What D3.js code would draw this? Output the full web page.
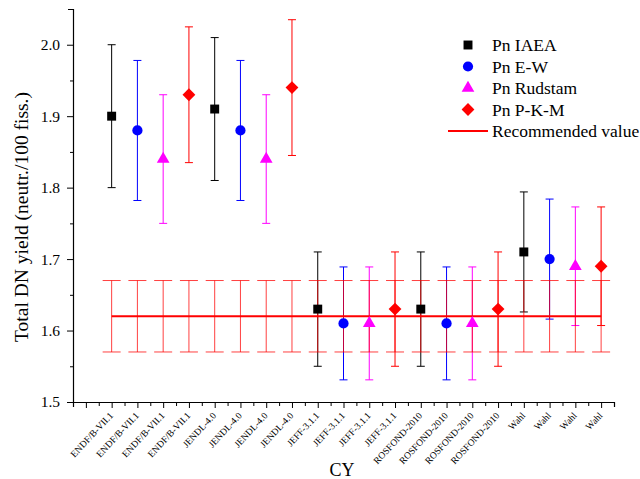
<!DOCTYPE html>
<html>
<head>
<meta charset="utf-8">
<script src="https://d3js.org/d3.v7.min.js"></script>
<style>
  body { margin: 0; background: #fff; }
</style>
</head>
<body>
<svg id="chart" width="640" height="479" font-family="'Liberation Serif', 'Times New Roman', Times, serif"></svg>
<script>
// CY libraries, each evaluated with four Pn data sets
var libraries = ['ENDF/B-VII.1', 'JENDL-4.0', 'JEFF-3.1.1', 'ROSFOND-2010', 'Wahl'];
var series = ['Pn IAEA', 'Pn E-W', 'Pn Rudstam', 'Pn P-K-M'];

// values per series, one per library
var iaeaVals = [1.90, 1.91, 1.63, 1.63, 1.71];
var iaeaErr  = [0.10, 0.10, 0.08, 0.08, 0.084];
var ewVals   = [1.88, 1.88, 1.61, 1.61, 1.70];
var ewErr    = [0.098, 0.098, 0.079, 0.079, 0.084];
var rudVals  = [1.84, 1.84, 1.61, 1.61, 1.69];
var rudErr   = [0.09, 0.09, 0.079, 0.079, 0.083];
var pkmVals  = [1.93, 1.94, 1.63, 1.63, 1.69];
var pkmErr   = [0.095, 0.095, 0.08, 0.08, 0.083];

var recValue = 1.62;
var recErr = 0.05;

var yTicks = [1.5, 1.6, 1.7, 1.8, 1.9, 2.0];

var FONT = "'Liberation Serif', 'Times New Roman', Times, serif";
var colors = ['#000000', '#0000ff', '#ff00ff', '#ff0000'];
// diamond = square turned 45 degrees
var shapes = [d3.symbolSquare, d3.symbolCircle, d3.symbolTriangle, d3.symbolSquare];
var turns = [0, 0, 0, 45];
var sizes = [80, 82, 70, 82];

var allVals = [iaeaVals, ewVals, rudVals, pkmVals];
var allErr = [iaeaErr, ewErr, rudErr, pkmErr];

// flatten into 20 category points: library-major, series-minor
var points = [];
libraries.forEach(function(lib, li) {
  series.forEach(function(s, si) {
    points.push({ idx: li * 4 + si + 1, label: lib, s: si, v: allVals[si][li], e: allErr[si][li] });
  });
});

var svg = d3.select('#chart');
var x = d3.scaleLinear().domain([-0.5, 20.5]).range([73, 614]);
var y = d3.scaleLinear().domain([1.5, 2.05]).range([402, 9]);

// axes
var xAxis = d3.axisBottom(x)
  .tickValues(d3.range(0, 20.5, 0.5))
  .tickSize(5)
  .tickFormat('');
var gx = svg.append('g').attr('transform', 'translate(0,402)').call(xAxis);
gx.attr('font-family', FONT);
gx.select('.domain').attr('stroke', '#000').attr('stroke-width', 1.2);
gx.selectAll('.tick line').attr('stroke', '#000')
  .attr('y2', function(d) { return d % 1 === 0 ? 6 : 4; });

gx.selectAll('.lbl')
  .data(points)
  .join('text')
  .attr('class', 'lbl')
  .attr('transform', function(d) { return 'translate(' + (x(d.idx) + 2) + ',14) rotate(-47)'; })
  .attr('text-anchor', 'end')
  .attr('font-size', 9.5)
  .attr('fill', '#000')
  .text(function(d) { return d.label; });

var yAxis = d3.axisLeft(y)
  .tickValues(d3.range(1.5, 2.051, 0.05))
  .tickSize(5)
  .tickPadding(4)
  .tickFormat(function(d) {
    var r = Math.round(d * 100) / 100;
    return yTicks.some(function(t) { return Math.abs(t - r) < 1e-6; }) ? r.toFixed(1) : '';
  });
var gy = svg.append('g').attr('transform', 'translate(73,0)').call(yAxis);
gy.attr('font-family', FONT);
gy.select('.domain').attr('stroke', '#000').attr('stroke-width', 1.2);
gy.selectAll('.tick line').attr('stroke', '#000')
  .attr('x2', function(d) { return Math.abs(Math.round(d * 10) - d * 10) < 1e-6 ? -6 : -3; });
gy.selectAll('.tick text').attr('font-size', 15.5).attr('fill', '#000').attr('x', -13);

// axis titles
svg.append('text')
  .attr('transform', 'translate(28,217) rotate(-90)')
  .attr('text-anchor', 'middle')
  .attr('font-size', 19.5)
  .text('Total DN yield (neutr./100 fiss.)');
svg.append('text')
  .attr('x', 342).attr('y', 476)
  .attr('text-anchor', 'middle')
  .attr('font-size', 18)
  .text('CY');

// data error bars
var eb = svg.append('g').selectAll('g')
  .data(points)
  .join('g')
  .attr('stroke', function(d) { return colors[d.s]; })
  .attr('stroke-width', 1);
eb.append('line')
  .attr('x1', function(d) { return x(d.idx); })
  .attr('x2', function(d) { return x(d.idx); })
  .attr('y1', function(d) { return y(d.v - d.e); })
  .attr('y2', function(d) { return y(d.v + d.e); });
eb.append('line')
  .attr('x1', function(d) { return x(d.idx) - 4; })
  .attr('x2', function(d) { return x(d.idx) + 4; })
  .attr('y1', function(d) { return y(d.v + d.e); })
  .attr('y2', function(d) { return y(d.v + d.e); });
eb.append('line')
  .attr('x1', function(d) { return x(d.idx) - 4; })
  .attr('x2', function(d) { return x(d.idx) + 4; })
  .attr('y1', function(d) { return y(d.v - d.e); })
  .attr('y2', function(d) { return y(d.v - d.e); });

// recommended value error bars
var rb = svg.append('g').selectAll('g')
  .data(points)
  .join('g')
  .attr('stroke', '#ff0000')
  .attr('stroke-opacity', 0.75)
  .attr('stroke-width', 1);
rb.append('line')
  .attr('x1', function(d) { return x(d.idx); })
  .attr('x2', function(d) { return x(d.idx); })
  .attr('y1', y(recValue - recErr))
  .attr('y2', y(recValue + recErr));
[recValue - recErr, recValue + recErr].forEach(function(v) {
  rb.append('line')
    .attr('x1', function(d) { return x(d.idx) - 9; })
    .attr('x2', function(d) { return x(d.idx) + 9; })
    .attr('y1', y(v))
    .attr('y2', y(v));
});

// recommended value line
svg.append('line')
  .attr('x1', x(1)).attr('x2', x(20))
  .attr('y1', y(recValue)).attr('y2', y(recValue))
  .attr('stroke', '#ff0000')
  .attr('stroke-width', 2);

// markers
svg.append('g').selectAll('path')
  .data(points)
  .join('path')
  .attr('transform', function(d) {
    return 'translate(' + x(d.idx) + ',' + y(d.v) + ') rotate(' + turns[d.s] + ')';
  })
  .attr('d', function(d) { return d3.symbol().type(shapes[d.s]).size(sizes[d.s])(); })
  .attr('fill', function(d) { return colors[d.s]; });

// legend
var lg = svg.append('g');
series.forEach(function(s, i) {
  var ly = 45 + i * 21.5;
  lg.append('path')
    .attr('transform', 'translate(468,' + ly + ') rotate(' + turns[i] + ')')
    .attr('d', d3.symbol().type(shapes[i]).size(sizes[i])())
    .attr('fill', colors[i]);
  lg.append('text')
    .attr('x', 492).attr('y', ly + 6)
    .attr('font-size', 17.5)
    .text(s);
});
var recY = 45 + 4 * 21.5;
lg.append('line')
  .attr('x1', 448).attr('x2', 488)
  .attr('y1', recY).attr('y2', recY)
  .attr('stroke', '#ff0000').attr('stroke-width', 2);
lg.append('text')
  .attr('x', 492).attr('y', recY + 6)
  .attr('font-size', 17.5)
  .text('Recommended value');
</script>
</body>
</html>
